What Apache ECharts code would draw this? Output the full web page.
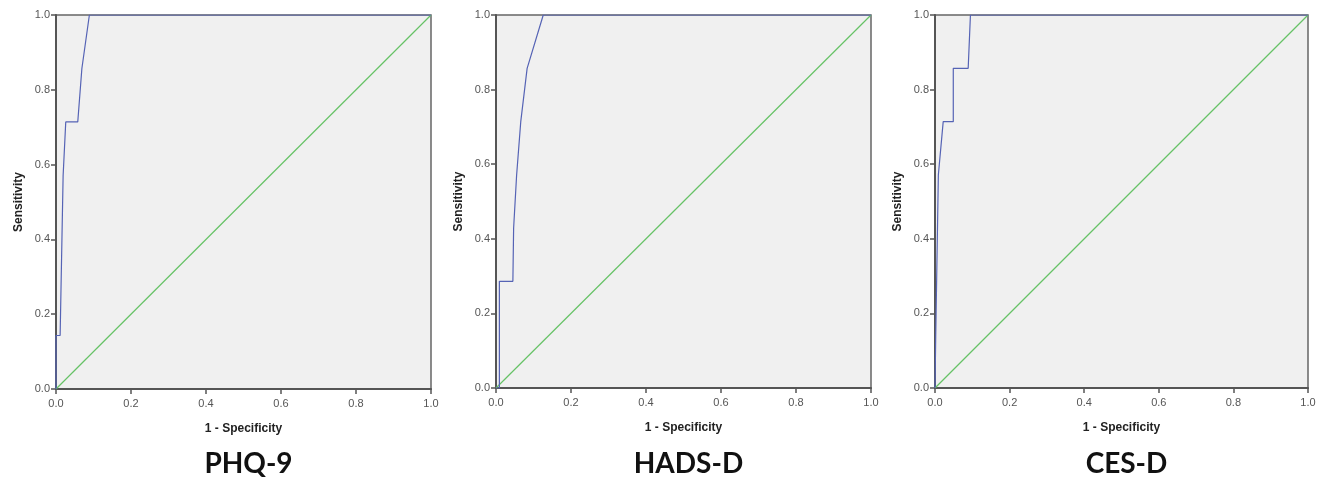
<!DOCTYPE html>
<html><head><meta charset="utf-8">
<script src="https://cdn.jsdelivr.net/npm/echarts@6/dist/echarts.min.js"></script>
<style>html,body{margin:0;padding:0;background:#fff}#c{width:1326px;height:478px}</style>
</head><body><div id="c"></div>
<script>
const panelTitles = ['PHQ-9', 'HADS-D', 'CES-D'];
const xAxisName = '1 - Specificity';
const yAxisName = 'Sensitivity';
const tickValues = [0, 0.2, 0.4, 0.6, 0.8, 1.0];

const phq9Fpr = [0, 0, 0.011, 0.019, 0.026, 0.058, 0.069, 0.089, 1];
const phq9Tpr = [0, 0.143, 0.143, 0.571, 0.714, 0.714, 0.857, 1, 1];

const hadsFpr = [0, 0.009, 0.009, 0.045, 0.047, 0.055, 0.066, 0.083, 0.126, 1];
const hadsTpr = [0, 0, 0.286, 0.286, 0.429, 0.571, 0.714, 0.857, 1, 1];

const cesdFpr = [0, 0.002, 0.005, 0.009, 0.022, 0.049, 0.049, 0.089, 0.095, 1];
const cesdTpr = [0, 0.143, 0.143, 0.571, 0.714, 0.714, 0.857, 0.857, 1, 1];

const refFpr = [0, 1];
const refTpr = [0, 1];

const curves = [[phq9Fpr, phq9Tpr], [hadsFpr, hadsTpr], [cesdFpr, cesdTpr]];
const pair = (xs, ys) => xs.map((x, i) => [x, ys[i]]);

const grids = [
  {left: 56, top: 15, width: 375, height: 374},
  {left: 496, top: 15, width: 375, height: 373},
  {left: 935, top: 15, width: 373, height: 373}
];

const chart = echarts.init(document.getElementById('c'));
const option = {
  animation: false,
  title: panelTitles.map((t, i) => ({
    text: t, left: grids[i].left + grids[i].width / 2, top: 445, textAlign: 'center',
    textStyle: {fontFamily: 'Lato', fontWeight: 'bold', fontSize: 28, color: '#111'}
  })),
  grid: grids.map(g => Object.assign({show: true, backgroundColor: '#f0f0f0', borderColor: '#666', borderWidth: 1.5}, g)),
  xAxis: grids.map((g, i) => ({
    gridIndex: i, type: 'value', min: 0, max: 1, interval: 0.2,
    name: xAxisName, nameLocation: 'middle', nameGap: 34,
    nameTextStyle: {fontFamily: 'Liberation Sans', fontWeight: 'bold', fontSize: 12, color: '#222'},
    axisLine: {show: true, onZero: false, lineStyle: {color: '#555', width: 2}},
    axisTick: {show: true, length: 5, lineStyle: {color: '#555', width: 1.5}},
    axisLabel: {fontFamily: 'Liberation Sans', fontSize: 11, color: '#555', margin: 9, formatter: v => v.toFixed(1)},
    splitLine: {show: false}
  })),
  yAxis: grids.map((g, i) => ({
    gridIndex: i, type: 'value', min: 0, max: 1, interval: 0.2,
    name: yAxisName, nameLocation: 'middle', nameGap: 31, nameRotate: 90,
    nameTextStyle: {fontFamily: 'Liberation Sans', fontWeight: 'bold', fontSize: 12, color: '#222'},
    axisLine: {show: true, onZero: false, lineStyle: {color: '#555', width: 2}},
    axisTick: {show: true, length: 5, lineStyle: {color: '#555', width: 1.5}},
    axisLabel: {fontFamily: 'Liberation Sans', fontSize: 11, color: '#555', margin: 6, formatter: v => v.toFixed(1)},
    splitLine: {show: false}
  })),
  series: []
};
curves.forEach((c, i) => {
  option.series.push({
    type: 'line', xAxisIndex: i, yAxisIndex: i, data: pair(refFpr, refTpr),
    showSymbol: false, lineStyle: {color: '#66c266', width: 1.2}, z: 2
  });
  option.series.push({
    type: 'line', xAxisIndex: i, yAxisIndex: i, data: pair(c[0], c[1]),
    showSymbol: false, lineStyle: {color: '#5563b5', width: 1.2}, z: 3
  });
});
chart.setOption(option);
</script>
</body></html>
